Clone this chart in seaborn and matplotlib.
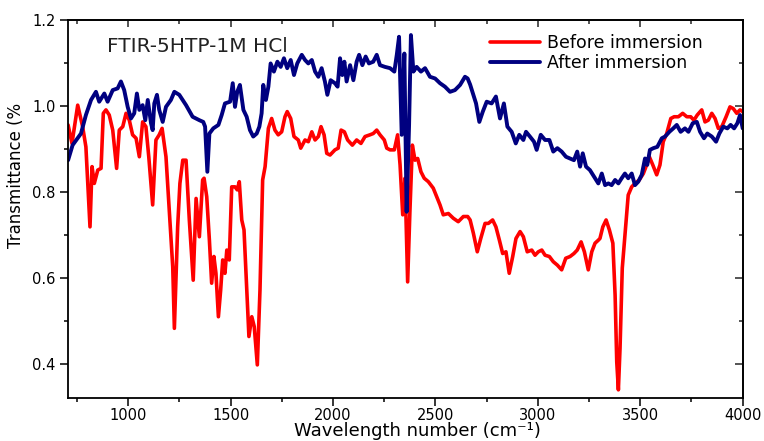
import matplotlib
matplotlib.use("Agg")
import matplotlib.pyplot as plt
import seaborn as sns
import pandas as pd

# ---- data ----
before_wn = [706, 725, 753, 777, 793, 813, 823, 834, 851, 867, 878, 891, 907, 924, 943, 956, 973, 989,
             1005, 1021, 1038, 1054, 1070, 1086, 1100, 1119, 1135, 1151, 1165, 1184, 1200, 1217, 1225,
             1241, 1252, 1266, 1282, 1298, 1317, 1331, 1347, 1363, 1370, 1383, 1396, 1407, 1418, 1428,
             1440, 1451, 1461, 1472, 1481, 1493, 1505, 1521, 1532, 1542, 1554, 1565, 1578, 1589, 1603,
             1615, 1630, 1643, 1656, 1668, 1684, 1700, 1716, 1732, 1749, 1765, 1776, 1793, 1809, 1830,
             1842, 1863, 1879, 1896, 1912, 1928, 1941, 1956, 1969, 1985, 2009, 2025, 2039, 2055, 2071,
             2094, 2115, 2136, 2156, 2180, 2196, 2213, 2229, 2250, 2262, 2278, 2299, 2315, 2327, 2340,
             2351, 2364, 2375, 2387, 2400, 2413, 2429, 2445, 2465, 2489, 2506, 2522, 2538, 2563, 2587,
             2611, 2636, 2657, 2669, 2685, 2704, 2721, 2742, 2758, 2779, 2795, 2812, 2828, 2844, 2860,
             2877, 2893, 2913, 2929, 2948, 2970, 2986, 3002, 3019, 3035, 3056, 3075, 3095, 3116, 3136,
             3157, 3176, 3192, 3211, 3227, 3246, 3263, 3279, 3295, 3303, 3317, 3333, 3349, 3366, 3377,
             3385, 3393, 3401, 3412, 3425, 3441, 3458, 3474, 3495, 3515, 3531, 3544, 3561, 3580, 3596,
             3612, 3629, 3649, 3665, 3686, 3707, 3727, 3746, 3762, 3778, 3800, 3816, 3832, 3849, 3865,
             3881, 3898, 3919, 3938, 3954, 3971, 3987, 4000]
before_t = [0.956, 0.913, 1.002, 0.952, 0.905, 0.719, 0.859, 0.820, 0.851, 0.855, 0.983, 0.991, 0.979,
            0.944, 0.855, 0.944, 0.952, 0.983, 0.967, 0.933, 0.925, 0.882, 0.963, 0.952, 0.882, 0.770,
            0.921, 0.933, 0.948, 0.882, 0.758, 0.626, 0.483, 0.719, 0.820, 0.874, 0.874, 0.735, 0.595,
            0.785, 0.696, 0.828, 0.832, 0.789, 0.688, 0.588, 0.650, 0.611, 0.510, 0.572, 0.642, 0.611,
            0.665, 0.642, 0.812, 0.812, 0.805, 0.824, 0.735, 0.712, 0.580, 0.464, 0.510, 0.487, 0.398,
            0.572, 0.828, 0.859, 0.948, 0.971, 0.944, 0.933, 0.940, 0.975, 0.987, 0.971, 0.929, 0.921,
            0.902, 0.921, 0.917, 0.940, 0.921, 0.929, 0.952, 0.933, 0.890, 0.886, 0.898, 0.902, 0.944,
            0.940, 0.921, 0.909, 0.921, 0.913, 0.929, 0.933, 0.936, 0.944, 0.933, 0.921, 0.902, 0.898,
            0.898, 0.933, 0.863, 0.747, 0.832, 0.591, 0.754, 0.909, 0.874, 0.878, 0.847, 0.832, 0.824,
            0.809, 0.789, 0.770, 0.747, 0.750, 0.739, 0.731, 0.743, 0.743, 0.735, 0.704, 0.661, 0.692,
            0.727, 0.727, 0.735, 0.719, 0.688, 0.657, 0.661, 0.611, 0.650, 0.692, 0.708, 0.696, 0.661,
            0.665, 0.653, 0.661, 0.665, 0.653, 0.650, 0.638, 0.630, 0.619, 0.646, 0.650, 0.657, 0.665,
            0.684, 0.661, 0.619, 0.661, 0.681, 0.688, 0.692, 0.719, 0.735, 0.712, 0.681, 0.560, 0.405,
            0.340, 0.436, 0.623, 0.700, 0.793, 0.812, 0.820, 0.828, 0.843, 0.863, 0.882, 0.863, 0.840,
            0.863, 0.917, 0.936, 0.971, 0.975, 0.975, 0.983, 0.975, 0.975, 0.967, 0.979, 0.991, 0.963,
            0.967, 0.983, 0.971, 0.948, 0.952, 0.975, 0.998, 0.994, 0.983, 0.991, 0.987]

after_wn = [706, 728, 769, 793, 818, 842, 858, 883, 899, 924, 948, 964, 980, 997, 1013, 1029, 1042,
            1054, 1070, 1083, 1095, 1111, 1119, 1127, 1140, 1151, 1168, 1184, 1208, 1225, 1249, 1282,
            1314, 1347, 1366, 1375, 1386, 1396, 1415, 1440, 1456, 1472, 1497, 1510, 1521, 1532, 1545,
            1562, 1578, 1594, 1610, 1627, 1640, 1651, 1659, 1672, 1684, 1695, 1711, 1728, 1744, 1760,
            1776, 1793, 1809, 1825, 1847, 1863, 1879, 1896, 1912, 1928, 1944, 1960, 1972, 1988, 2009,
            2022, 2034, 2045, 2055, 2066, 2083, 2099, 2115, 2127, 2143, 2159, 2175, 2196, 2213, 2229,
            2253, 2278, 2299, 2311, 2322, 2335, 2348, 2359, 2371, 2380, 2392, 2408, 2429, 2449, 2473,
            2498, 2522, 2546, 2571, 2595, 2620, 2644, 2657, 2669, 2685, 2698, 2714, 2731, 2750, 2774,
            2795, 2815, 2834, 2851, 2872, 2892, 2909, 2929, 2942, 2961, 2981, 2994, 3014, 3035, 3056,
            3075, 3095, 3116, 3137, 3157, 3176, 3192, 3206, 3219, 3235, 3254, 3274, 3295, 3312, 3328,
            3344, 3360, 3377, 3393, 3409, 3425, 3441, 3458, 3474, 3490, 3507, 3523, 3534, 3547, 3564,
            3583, 3605, 3621, 3642, 3661, 3678, 3697, 3718, 3735, 3756, 3776, 3792, 3811, 3827, 3849,
            3870, 3886, 3905, 3925, 3941, 3958, 3974, 3987, 4000]
after_t = [0.874, 0.909, 0.936, 0.979, 1.014, 1.033, 1.010, 1.029, 1.010, 1.037, 1.041, 1.057, 1.037,
           0.998, 0.971, 0.983, 1.029, 0.991, 1.002, 0.967, 1.014, 0.960, 0.944, 1.006, 1.026, 0.991,
           0.963, 0.998, 1.014, 1.033, 1.026, 1.002, 0.975, 0.967, 0.963, 0.952, 0.847, 0.936, 0.948,
           0.956, 0.979, 1.006, 1.010, 1.053, 0.998, 1.033, 1.049, 0.991, 0.975, 0.944, 0.929, 0.936,
           0.952, 0.983, 1.049, 1.014, 1.045, 1.099, 1.080, 1.103, 1.091, 1.111, 1.088, 1.107, 1.072,
           1.099, 1.119, 1.107, 1.099, 1.107, 1.080, 1.068, 1.088, 1.057, 1.026, 1.060, 1.053, 1.045,
           1.111, 1.072, 1.103, 1.057, 1.095, 1.060, 1.103, 1.119, 1.095, 1.115, 1.099, 1.103, 1.119,
           1.095, 1.091, 1.088, 1.080, 1.119, 1.161, 0.933, 1.122, 0.754, 0.956, 1.165, 1.080, 1.091,
           1.080, 1.088, 1.068, 1.064, 1.053, 1.045, 1.033, 1.037, 1.049, 1.068, 1.064, 1.050, 1.026,
           1.006, 0.963, 0.987, 1.010, 1.006, 1.022, 0.971, 1.006, 0.952, 0.940, 0.913, 0.933, 0.921,
           0.940, 0.929, 0.917, 0.898, 0.933, 0.921, 0.921, 0.894, 0.902, 0.894, 0.882, 0.878, 0.874,
           0.894, 0.859, 0.890, 0.859, 0.851, 0.836, 0.820, 0.843, 0.816, 0.820, 0.816, 0.828, 0.820,
           0.832, 0.843, 0.832, 0.843, 0.816, 0.824, 0.840, 0.878, 0.863, 0.898, 0.902, 0.905, 0.925,
           0.929, 0.940, 0.948, 0.956, 0.940, 0.948, 0.940, 0.960, 0.963, 0.940, 0.925, 0.936, 0.929,
           0.917, 0.936, 0.952, 0.948, 0.956, 0.948, 0.960, 0.979, 0.948]

series_labels = ["Before immersion", "After immersion"]
series_colors = ["#ff0000", "#000080"]
x_ticks = [1000, 1500, 2000, 2500, 3000, 3500, 4000]
y_ticks = [0.4, 0.6, 0.8, 1.0, 1.2]
annotation = "FTIR-5HTP-1M HCl"
x_label = "Wavelength number (cm\u207b\u00b9)"
y_label = "Transmittance (%"

# ---- styling ----
sns.set_theme(style="ticks")
plt.rcParams["font.family"] = ["DejaVu Sans"]
plt.rcParams["axes.linewidth"] = 1.3

fig = plt.figure(figsize=(7.64, 4.41), dpi=100)
ax = fig.add_axes([68 / 764, 1 - 398 / 441, (742.7 - 68) / 764, (398 - 20) / 441])

df_before = pd.DataFrame({"wn": before_wn, "T": before_t})
df_after = pd.DataFrame({"wn": after_wn, "T": after_t})

sns.lineplot(data=df_before, x="wn", y="T", ax=ax, color=series_colors[0], lw=2.6,
             label=series_labels[0], estimator=None, sort=False)
sns.lineplot(data=df_after, x="wn", y="T", ax=ax, color=series_colors[1], lw=2.8,
             label=series_labels[1], estimator=None, sort=False)

ax.set_xlim(705.6, 4000)
ax.set_ylim(0.321, 1.2)
ax.set_xticks(x_ticks)
ax.set_yticks(y_ticks)
ax.set_xticks([750 + 500 * i for i in range(7)], minor=True)
ax.set_yticks([0.5, 0.7, 0.9, 1.1], minor=True)
ax.set_xticklabels([str(t) for t in x_ticks])
ax.set_yticklabels([f"{t:.1f}" for t in y_ticks])

for s in ax.spines.values():
    s.set_color("black")
    s.set_linewidth(1.3)

ax.tick_params(axis="both", which="major", direction="out", length=5.5, width=1.1,
               colors="black", labelsize=10.5, labelcolor="black")
ax.tick_params(axis="both", which="minor", direction="out", length=3.2, width=1.1, colors="black")
ax.tick_params(axis="x", which="major", pad=2)
ax.tick_params(axis="y", which="major", pad=3.5)

# mirrored inward ticks on top and right
top = ax.secondary_xaxis("top")
top.set_xticks(x_ticks)
top.set_xticks([750 + 500 * i for i in range(7)], minor=True)
top.tick_params(which="major", direction="in", length=5, width=1.1, labeltop=False)
top.tick_params(which="minor", direction="in", length=3, width=1.1)
right = ax.secondary_yaxis("right")
right.set_yticks(y_ticks)
right.set_yticks([0.5, 0.7, 0.9, 1.1], minor=True)
right.tick_params(which="major", direction="in", length=6, width=1.1, labelright=False)
right.tick_params(which="minor", direction="in", length=3, width=1.1)

ax.set_xlabel(x_label, fontsize=13, color="black", va="baseline")
ax.xaxis.set_label_coords(0.518, -0.1005)
ax.set_ylabel(y_label, fontsize=12, color="black")
ax.yaxis.set_label_coords(-0.064, 0.59)

ax.text(0.0578, 0.9153, annotation, transform=ax.transAxes, fontsize=14.5,
        color="#222222", va="baseline", ha="left")

leg = ax.legend(loc="upper left", bbox_to_anchor=(0.6255, 0.962), frameon=False,
                fontsize=12.5, handlelength=2.9, handletextpad=0.4, labelspacing=0.12,
                borderpad=0, borderaxespad=0)
for t in leg.get_texts():
    t.set_color("black")

fig.savefig("out.png", dpi=100)
